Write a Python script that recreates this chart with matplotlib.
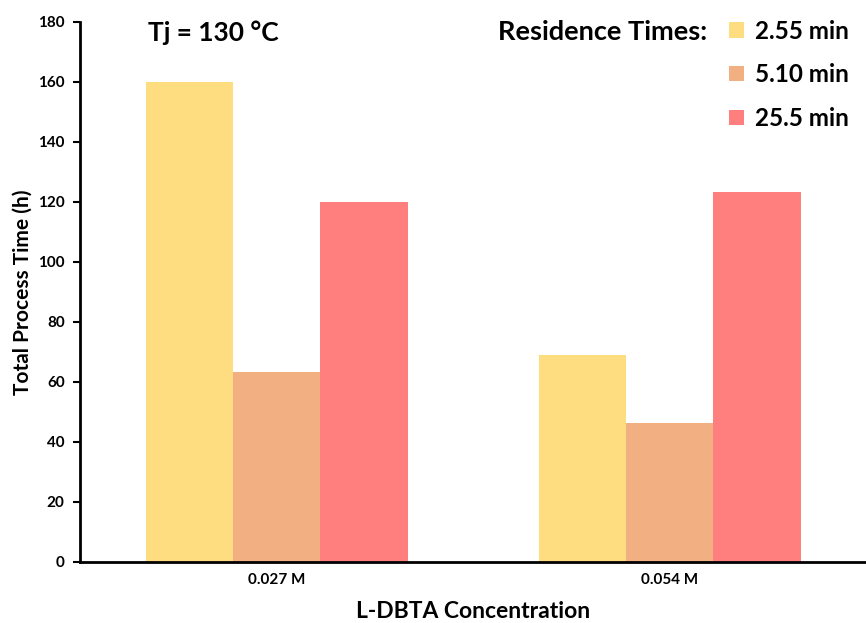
import matplotlib
matplotlib.use("Agg")
import matplotlib.pyplot as plt
import numpy as np

plt.rcParams['font.family'] = ['Lato', 'DejaVu Sans']

concentrations = ["0.027 M", "0.054 M"]
residence_labels = ["2.55 min", "5.10 min", "25.5 min"]
process_time = {
    "2.55 min": [160, 69],
    "5.10 min": [63.3, 46.2],
    "25.5 min": [120, 123.2],
}
colors = ["#FEDC80", "#F1AF82", "#FF7F7F"]

fig = plt.figure(figsize=(8.66, 6.23), dpi=100)
ax = fig.add_axes([0.0924, 0.098, 0.9076, 0.867])

x = np.arange(len(concentrations))
width = 1 / 4.5
handles = []
for i, (lab, col) in enumerate(zip(residence_labels, colors)):
    b = ax.bar(x + (i - 1) * width, process_time[lab], width, color=col, label=lab)
    handles.append(b)

ax.set_xlim(-0.5, 1.5)
ax.set_ylim(0, 180)
ax.set_yticks(np.arange(0, 181, 20))
ax.set_xticks(x)
ax.set_xticklabels(concentrations, fontsize=11, fontweight='bold')
ax.tick_params(axis='x', length=0, pad=8)
ax.tick_params(axis='y', length=5, width=1.5, labelsize=11, direction='out', pad=6)
for t in ax.get_yticklabels():
    t.set_fontweight('bold')

for s in ['top', 'right']:
    ax.spines[s].set_visible(False)
for s in ['left', 'bottom']:
    ax.spines[s].set_linewidth(2)

ax.set_ylabel("Total Process Time (h)", fontsize=15, fontweight='bold', labelpad=4)
ax.set_xlabel("L-DBTA Concentration", fontsize=16.5, fontweight='bold', labelpad=10)

fig.text(0.171, 0.947, "Tj = 130 °C", fontsize=19, fontweight='bold', va='center')
fig.text(0.817, 0.949, "Residence Times:", fontsize=19.5, fontweight='bold', va='center', ha='right')

leg = fig.legend(handles=handles, labels=residence_labels, loc='upper left',
                 bbox_to_anchor=(0.831, 0.984), frameon=False,
                 prop={'weight': 'bold', 'size': 17.5},
                 handlelength=0.6, handleheight=0.6, handletextpad=0.45,
                 labelspacing=0.85, borderaxespad=0)

fig.savefig("out.png", dpi=100)
